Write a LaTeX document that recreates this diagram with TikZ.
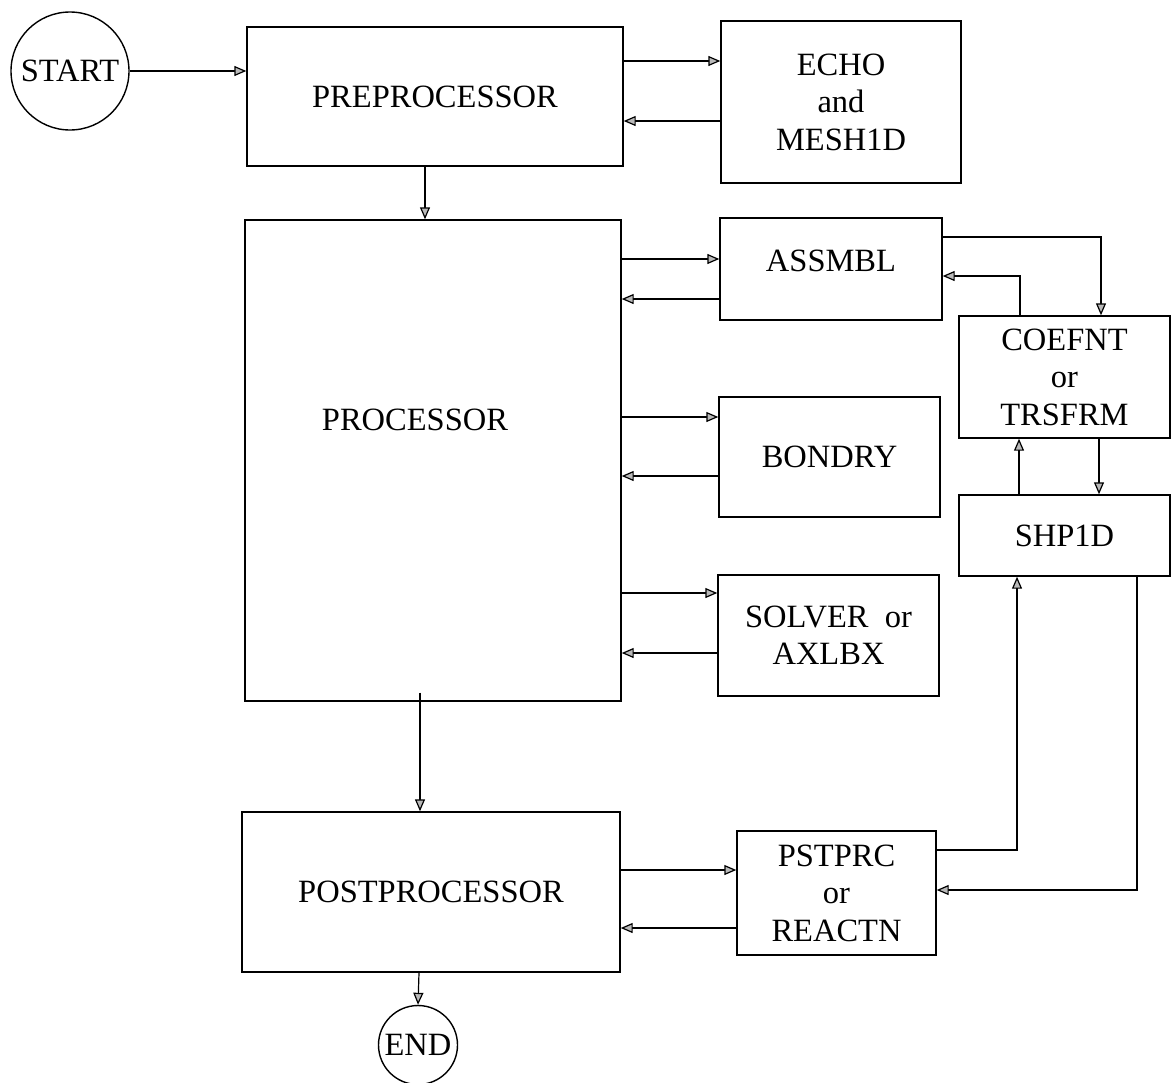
\documentclass[tikz,border=0pt]{standalone}
\usepackage{fontspec}
\setmainfont{Liberation Serif}
\usetikzlibrary{arrows.meta}
\begin{document}
\begin{tikzpicture}[x=1pt,y=-1pt,
  every node/.style={font=\fontsize{32.5}{37.5}\selectfont},
  box/.style={draw, line width=1.4pt, rectangle, inner sep=0pt, align=center},
  term/.style={draw, line width=1.4pt, circle, inner sep=0pt},
  arr/.style={line width=1.2pt, -{Triangle[length=12pt,width=10pt,fill=gray!55]}},
  ln/.style={line width=1.2pt}]
\useasboundingbox (0,0) rectangle (1172,1082);
% terminals
\node[term, minimum size=118pt] (start) at (70,71) {START};
\node[term, minimum size=79pt] (end) at (418,1045) {END};
% boxes
\node[box, minimum width=376pt, minimum height=139pt] (pre) at (435,96.5) {PREPROCESSOR};
\node[box, minimum width=240pt, minimum height=162pt] (echo) at (841,102) {ECHO\\and\\MESH1D};
\node[box, minimum width=376pt, minimum height=481pt] (proc) at (433,460.5) {};
\node (proctext) at (415,420) {PROCESSOR};
\node[box, minimum width=222pt, minimum height=102pt] (assmbl) at (831,269) {};
\node (assmbltext) at (831,261) {ASSMBL};
\node[box, minimum width=211pt, minimum height=122pt] (coefnt) at (1064.5,377) {COEFNT\\or\\TRSFRM};
\node[box, minimum width=221pt, minimum height=120pt] (bondry) at (829.5,457) {BONDRY};
\node[box, minimum width=211pt, minimum height=81pt] (shp) at (1064.5,535.5) {SHP1D};
\node[box, minimum width=221pt, minimum height=121pt] (solver) at (828.5,635.5) {SOLVER\enspace or\\AXLBX};
\node[box, minimum width=378pt, minimum height=160pt] (post) at (431,892) {POSTPROCESSOR};
\node[box, minimum width=199pt, minimum height=124pt] (pstprc) at (836.5,893) {PSTPRC\\or\\REACTN};
% connectors
\draw[arr] (start.east) -- (start.east -| pre.west);
\draw[arr] (pre.east |- 0,61) -- (echo.west |- 0,61);
\draw[arr] (echo.west |- 0,121) -- (pre.east |- 0,121);
\draw[arr] (pre.south -| 425,0) -- (proc.north -| 425,0);
\draw[arr] (proc.east |- 0,259) -- (assmbl.west |- 0,259);
\draw[arr] (assmbl.west |- 0,299) -- (proc.east |- 0,299);
\draw[arr] (proc.east |- 0,417) -- (bondry.west |- 0,417);
\draw[arr] (bondry.west |- 0,476) -- (proc.east |- 0,476);
\draw[arr] (proc.east |- 0,593) -- (solver.west |- 0,593);
\draw[arr] (solver.west |- 0,653) -- (proc.east |- 0,653);
\draw[arr] (assmbl.east |- 0,237) -| (coefnt.north -| 1101,0);
\draw[arr] (coefnt.north -| 1020,0) |- (assmbl.east |- 0,276);
\draw[arr] (coefnt.south -| 1099,0) -- (shp.north -| 1099,0);
\draw[arr] (shp.north -| 1019,0) -- (coefnt.south -| 1019,0);
\draw[arr] ([yshift=9pt]proc.south -| 420,0) -- (post.north -| 420,0);
\draw[arr] (post.south -| 419,0) -- (end.north);
\draw[arr] (post.east |- 0,870) -- (pstprc.west |- 0,870);
\draw[arr] (pstprc.west |- 0,928) -- (post.east |- 0,928);
\draw[arr] (pstprc.east |- 0,850) -| (shp.south -| 1017,0);
\draw[arr] (shp.south -| 1137,0) |- (pstprc.east |- 0,890);
\end{tikzpicture}
\end{document}
